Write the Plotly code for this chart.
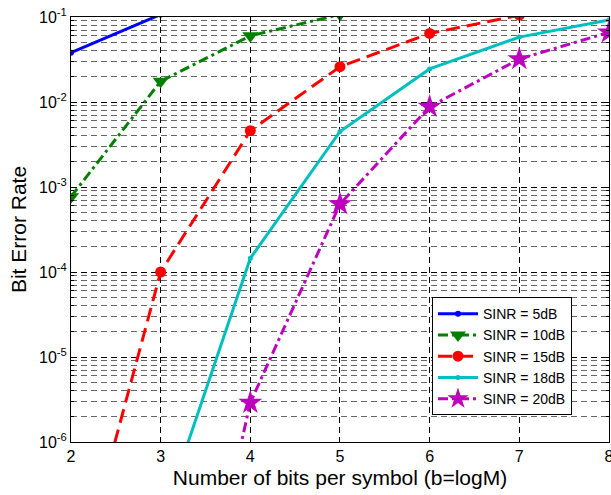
import plotly.graph_objects as go

bits = [2, 3, 4, 5, 6, 7, 8]
ber_5db = [0.038, 0.107, 0.2, 0.3, 0.35, 0.4, 0.45]
ber_10db = [7.7e-4, 0.0175, 0.06, 0.107, 0.17, 0.22, 0.27]
ber_15db = [1.2e-8, 1.0e-4, 4.6e-3, 0.026, 0.064, 0.105, 0.15]
ber_18db = [1.1e-7, 1.45e-4, 4.5e-3, 0.0245, 0.058, 0.092]
ber_18db_x = [3, 4, 5, 6, 7, 8]
ber_20db = [6e-11, 2.9e-6, 6.3e-4, 8.8e-3, 0.032, 0.066]
ber_20db_x = [3, 4, 5, 6, 7, 8]

names = ["SINR = 5dB", "SINR = 10dB", "SINR = 15dB", "SINR = 18dB", "SINR = 20dB"]
xtick_vals = [2, 3, 4, 5, 6, 7, 8]
ytick_vals = [1e-6, 1e-5, 1e-4, 1e-3, 1e-2, 1e-1]
ytick_text = ["10<sup>-6</sup>", "10<sup>-5</sup>", "10<sup>-4</sup>",
              "10<sup>-3</sup>", "10<sup>-2</sup>", "10<sup>-1</sup>"]

DASHDOT = "10px,4px,3px,4px"
DASH = "14px,7px"
GRIDDASH = "6px,4px"

fig = go.Figure()
fig.add_trace(go.Scatter(x=bits, y=ber_5db, name=names[0], mode="lines+markers",
                         line=dict(color="#0000FF", width=3, dash="solid"),
                         marker=dict(symbol="circle", size=6, color="#0000FF")))
fig.add_trace(go.Scatter(x=bits, y=ber_10db, name=names[1], mode="lines+markers",
                         line=dict(color="#008000", width=3, dash=DASHDOT),
                         marker=dict(symbol="triangle-down", size=14, color="#008000")))
fig.add_trace(go.Scatter(x=bits, y=ber_15db, name=names[2], mode="lines+markers",
                         line=dict(color="#FF0000", width=3, dash=DASH),
                         marker=dict(symbol="circle", size=11, color="#FF0000")))
fig.add_trace(go.Scatter(x=ber_18db_x, y=ber_18db, name=names[3], mode="lines+markers",
                         line=dict(color="#00BFBF", width=3, dash="solid"),
                         marker=dict(symbol="circle", size=5, color="#00BFBF")))
fig.add_trace(go.Scatter(x=ber_20db_x, y=ber_20db, name=names[4], mode="lines+markers",
                         line=dict(color="#BF00BF", width=3, dash=DASHDOT),
                         marker=dict(symbol="star", size=18, color="#BF00BF")))

fig.update_layout(
    width=611, height=495,
    margin=dict(l=71, r=2, t=17, b=53, autoexpand=False),
    paper_bgcolor="white", plot_bgcolor="white",
    font=dict(family="Liberation Sans, Arial, sans-serif", size=16, color="black"),
    showlegend=True,
    legend=dict(x=0.671, y=0.063, xanchor="left", yanchor="bottom",
                bgcolor="white", bordercolor="black", borderwidth=1,
                font=dict(size=14), tracegroupgap=0, itemwidth=40),
)
fig.update_xaxes(
    range=[2, 8.0005], tickvals=xtick_vals,
    showline=True, linecolor="black", linewidth=1, mirror="ticks",
    ticks="inside", ticklen=5, tickcolor="black",
    showgrid=True, gridcolor="black", griddash=GRIDDASH, gridwidth=1,
    zeroline=False, automargin=False, ticklabeloverflow="allow",
    title=dict(text="Number of bits per symbol (b=logM)", font=dict(size=21), standoff=6),
    tickfont=dict(size=16),
)
fig.update_yaxes(
    type="log", range=[-6, -1],
    tickvals=ytick_vals, ticktext=ytick_text,
    showline=True, linecolor="black", linewidth=1, mirror="ticks",
    ticks="inside", ticklen=5, tickcolor="black",
    showgrid=True, gridcolor="black", griddash=GRIDDASH, gridwidth=1,
    minor=dict(dtick="D1", showgrid=True, gridcolor="#666666", griddash=GRIDDASH,
               gridwidth=1, ticks="inside", ticklen=3, tickcolor="black"),
    zeroline=False, automargin=False,
    title=dict(text="Bit Error Rate", font=dict(size=21), standoff=6),
    tickfont=dict(size=16),
)

fig.write_html(
    "out.html",
    config={"displayModeBar": False},
    post_script="document.body.style.margin='0';document.body.style.overflow='hidden';",
)
